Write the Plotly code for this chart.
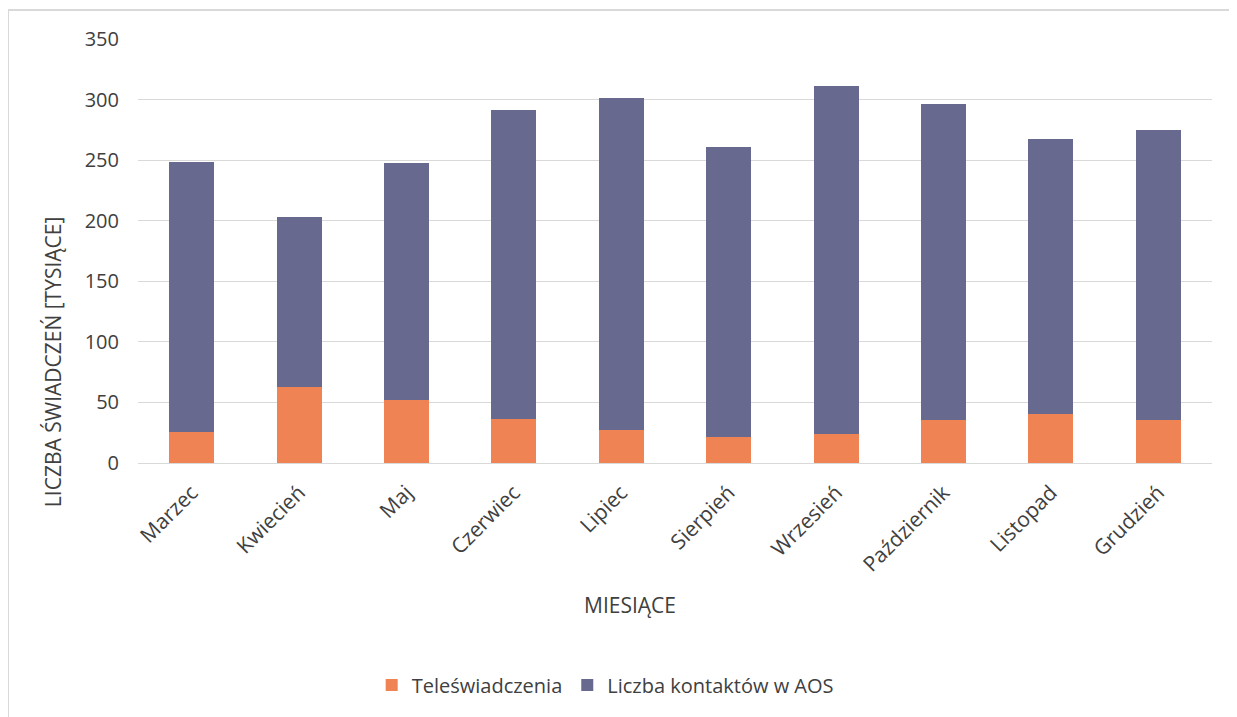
import plotly.graph_objects as go

months = ["Marzec", "Kwiecień", "Maj", "Czerwiec", "Lipiec", "Sierpień",
          "Wrzesień", "Październik", "Listopad", "Grudzień"]
tele = [25.6, 62.7, 51.7, 36.0, 27.0, 21.5, 23.7, 35.2, 40.2, 35.2]
total = [248.8, 202.7, 247.5, 291.3, 301.5, 261.0, 311.0, 296.5, 267.3, 274.7]
aos = [round(t - o, 1) for t, o in zip(total, tele)]
yticks = [0, 50, 100, 150, 200, 250, 300, 350]

FONT = "'Open Sans', 'Noto Sans', sans-serif"
TXT = "#404040"
BX0 = -130 / 1074
BY1 = 1 + 29 / 424

fig = go.Figure()
fig.add_trace(go.Bar(x=months, y=tele, name="Teleświadczenia",
                     marker=dict(color="#EF8354", line=dict(width=0))))
fig.add_trace(go.Bar(x=months, y=aos, name="Liczba kontaktów w AOS",
                     marker=dict(color="#676A8E", line=dict(width=0))))

fig.update_layout(
    barmode="stack",
    bargap=0.58,
    width=1229, height=709,
    margin=dict(l=130, r=25, t=31, b=254),
    paper_bgcolor="white", plot_bgcolor="white",
    font=dict(family=FONT, color=TXT, size=20),
    showlegend=True,
    legend=dict(orientation="h", x=0.435, xanchor="center", y=-0.5236, yanchor="middle",
                font=dict(size=20, color=TXT), traceorder="normal",
                itemwidth=30),
    xaxis=dict(tickangle=-45, tickfont=dict(size=21, color=TXT), showgrid=False,
               showline=True, linecolor="#D9D9D9", linewidth=1, ticks="",
               ticklabelstandoff=8),
    yaxis=dict(range=[0, 350], tickvals=yticks, tickfont=dict(size=20, color=TXT),
               showgrid=True, gridcolor="#D9D9D9", gridwidth=1, zeroline=False,
               ticks="", ticklen=0, ticklabelstandoff=18),
    annotations=[
        dict(text="MIESIĄCE", xref="paper", yref="paper", x=0.458, y=-0.335,
             xanchor="center", yanchor="middle", showarrow=False,
             font=dict(size=21, color=TXT)),
        dict(text="LICZBA ŚWIADCZEŃ [TYSIĄCE]", xref="paper", yref="paper",
             x=-0.0791, y=0.238, xanchor="center", yanchor="middle",
             textangle=-90, showarrow=False, font=dict(size=21, color=TXT)),
    ],
    shapes=[
        dict(type="line", xref="paper", yref="paper", x0=BX0, x1=BX0, y0=-0.8, y1=BY1,
             line=dict(color="#D9D9D9", width=2), layer="below"),
        dict(type="line", xref="paper", yref="paper", x0=BX0, x1=1.2, y0=BY1, y1=BY1,
             line=dict(color="#D9D9D9", width=2), layer="below"),
    ],
)

fig.write_html("out.html")
